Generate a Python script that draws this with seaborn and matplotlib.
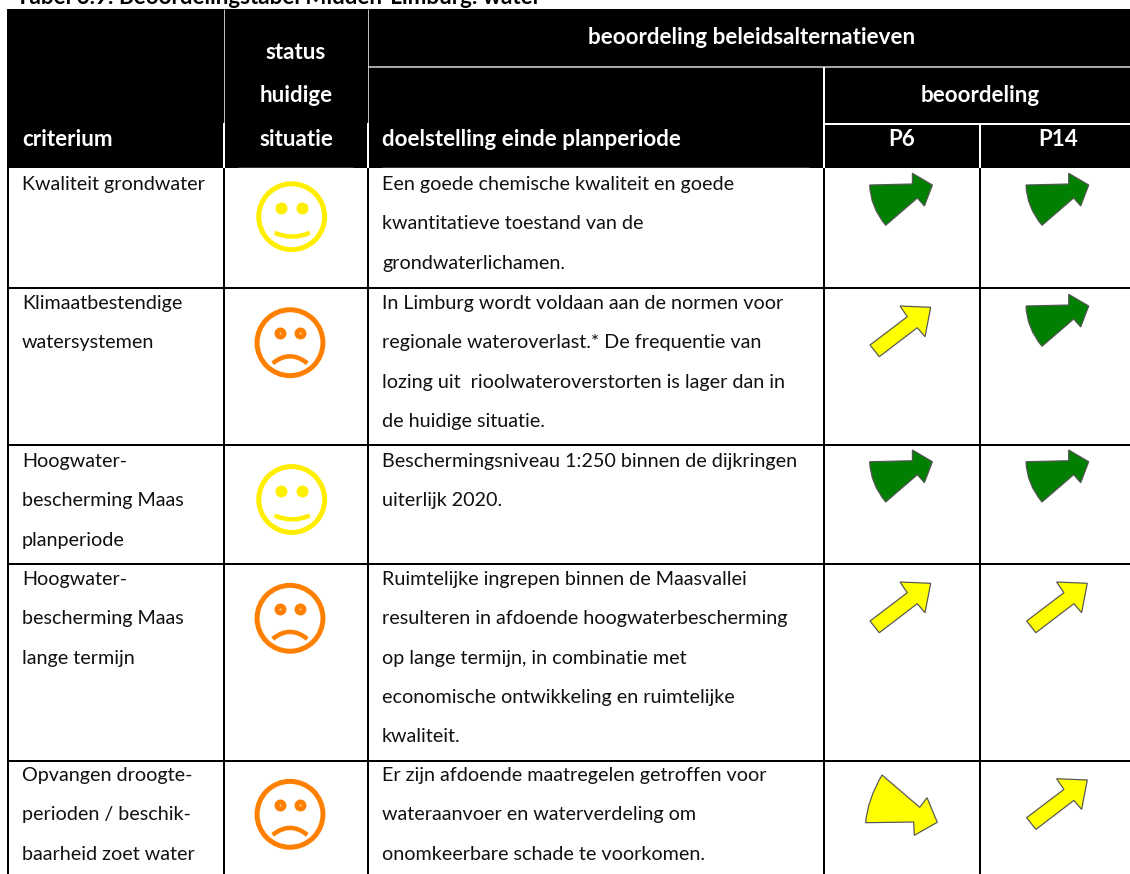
import pandas as pd
import matplotlib
matplotlib.use('Agg')
import matplotlib.pyplot as plt
from matplotlib.patches import PathPatch, Rectangle
from matplotlib.path import Path
import seaborn as sns

# --- DATA ---
titel = 'Tabel 6.9: Beoordelingstabel Midden-Limburg: water'

criteria = [
    ['Kwaliteit grondwater'],
    ['Klimaatbestendige', 'watersystemen'],
    ['Hoogwater-', 'bescherming Maas', 'planperiode'],
    ['Hoogwater-', 'bescherming Maas', 'lange termijn'],
    ['Opvangen droogte-', 'perioden / beschik-', 'baarheid zoet water'],
]
doelstellingen = [
    ['Een goede chemische kwaliteit en goede',
     'kwantitatieve toestand van de',
     'grondwaterlichamen.'],
    ['In Limburg wordt voldaan aan de normen voor',
     'regionale wateroverlast.* De frequentie van',
     'lozing uit  rioolwateroverstorten is lager dan in',
     'de huidige situatie.'],
    ['Beschermingsniveau 1:250 binnen de dijkringen',
     'uiterlijk 2020.'],
    ['Ruimtelijke ingrepen binnen de Maasvallei',
     'resulteren in afdoende hoogwaterbescherming',
     'op lange termijn, in combinatie met',
     'economische ontwikkeling en ruimtelijke',
     'kwaliteit.'],
    ['Er zijn afdoende maatregelen getroffen voor',
     'wateraanvoer en waterverdeling om',
     'onomkeerbare schade te voorkomen.'],
]
status = ['neutraal', 'slecht', 'neutraal', 'slecht', 'slecht']
p6 = ['groen', 'geel', 'groen', 'geel', 'geel_neer']
p14 = ['groen', 'groen', 'groen', 'geel', 'geel']

# --- LAYOUT (pixels) ---
W, H = 1130, 874
kolommen = [8, 224, 368, 824, 980]
rij_lijnen = [168, 288, 445, 564, 761]
eerste_regel = [190, 309, 467, 585, 781]
regel_afstand = 39.3
gezicht_y = [216.7, 342.7, 499.5, 618.3, 814.3]
gezicht_x = {'neutraal': 291.7, 'slecht': 290.0}
pijl_y_p6 = [185, 307.3, 461.7, 583.3, 822.3]
pijl_y_p14 = [185, 306, 461.7, 583.3, 780]
pijl_x = {('p6', 'groen'): 932.4, ('p6', 'geel'): 930.7, ('p6', 'geel_neer'): 937.3,
          ('p14', 'groen'): 1088.7, ('p14', 'geel'): 1087.3}
FS = 14.2
FS_KOP = 16.1
px = 0.72

# pijlvormen, relatief t.o.v. de punt
vorm_groen = [(-62.7, 0), (-20, -1), (-20, -11.7), (0, 0), (-8, 21), (-15, 13), (-46.7, 40.3)]
vorm_geel = [(-60.7, 37.7), (-23.4, 9.4), (-30.7, -1.3), (0, 0), (-5.7, 29.4), (-13.4, 20.4), (-51.4, 49.4)]
vorm_neer = [(-71.6, 0.4), (-23.6, -0.3), (-23, 13), (0, 0), (-10.3, -24.6), (-17.6, -15), (-55.3, -47.3)]
boog_groen = (-62, 22)
boog_neer = (-70, -22)

kleur_geel = '#FFFF00'
kleur_groen = '#007F00'
kleur_rand = '#555555'
kleur_gezicht = {'neutraal': '#FFEE00', 'slecht': '#FF8000'}


def pijl(ax, score, x, y):
    if score == 'geel':
        verts = [(x + a, y + b) for a, b in vorm_geel] + [(x + vorm_geel[0][0], y + vorm_geel[0][1])]
        codes = [Path.MOVETO] + [Path.LINETO] * 6 + [Path.CLOSEPOLY]
        kleur = kleur_geel
    else:
        vorm, boog = (vorm_groen, boog_groen) if score == 'groen' else (vorm_neer, boog_neer)
        kleur = kleur_groen if score == 'groen' else kleur_geel
        verts = [(x + a, y + b) for a, b in vorm]
        verts += [(x + boog[0], y + boog[1]), (x + vorm[0][0], y + vorm[0][1])]
        codes = [Path.MOVETO] + [Path.LINETO] * 6 + [Path.CURVE3, Path.CURVE3]
    ax.add_patch(PathPatch(Path(verts, codes), facecolor=kleur, edgecolor=kleur_rand,
                           lw=1.2 * px, zorder=4))


def mond(ax, soort, x, y):
    if soort == 'neutraal':
        punten = [(x - 17, y + 16), (x + 0.5, y + 24), (x + 18, y + 16)]
    else:
        punten = [(x - 17.3, y + 20.6), (x, y + 6.5), (x + 17.3, y + 20.6)]
    codes = [Path.MOVETO, Path.CURVE3, Path.CURVE3]
    ax.add_patch(PathPatch(Path(punten, codes), facecolor='none', lw=4.5 * px,
                           edgecolor=kleur_gezicht[soort], capstyle='butt', zorder=3))


def main():
    sns.set_theme(style='white')
    plt.rcParams['font.family'] = ['Lato', 'DejaVu Sans']

    fig = plt.figure(figsize=(W / 100, H / 100), dpi=100)
    ax = fig.add_axes([0, 0, 1, 1])

    # smileys
    df = pd.DataFrame({'rij': range(len(status)), 'status': status, 'y': gezicht_y})
    df['x'] = df['status'].map(gezicht_x)
    sns.scatterplot(data=df, x='x', y='y', hue='status', palette=kleur_gezicht, s=2250,
                    marker='o', linewidth=0, legend=False, ax=ax, zorder=3)
    ring = ax.collections[0]
    ring.set_edgecolor(ring.get_facecolor())
    ring.set_facecolor('none')
    ring.set_linewidth(5 * px)
    for soort, dx, dy in [('neutraal', 10.5, -9), ('slecht', 10.3, -9.4)]:
        deel = df[df['status'] == soort]
        for kant in (-dx, dx):
            ogen = pd.DataFrame({'x': deel['x'] + kant, 'y': deel['y'] + dy})
            sns.scatterplot(data=ogen, x='x', y='y', color=kleur_gezicht[soort], s=74,
                            linewidth=0, legend=False, ax=ax, zorder=3)
            if soort == 'slecht':
                sns.scatterplot(data=ogen, x='x', y='y', color='#FFD0A0', s=2,
                                linewidth=0, legend=False, ax=ax, zorder=3)
    for soort, y in zip(status, gezicht_y):
        mond(ax, soort, gezicht_x[soort], y)

    # kop
    ax.add_patch(Rectangle((7, 9), W - 7, 159, facecolor='black', edgecolor='none', zorder=1))
    ax.vlines([224, 368], 9, 123, color='#BBBBBB', lw=1 * px, zorder=2)
    ax.vlines([224, 368], 123, 168, color='white', lw=2 * px, zorder=2)
    ax.hlines(67, 368, W, color='#DDDDDD', lw=1.5 * px, zorder=2)
    ax.hlines(124, 824, W, color='white', lw=2 * px, zorder=2)
    ax.vlines(824, 67, 168, color='white', lw=2 * px, zorder=2)
    ax.vlines(980, 124, 168, color='white', lw=2 * px, zorder=2)
    ax.hlines(167, 238, 353, color='#333333', lw=1 * px, zorder=2)
    ax.hlines(167, 382, 809, color='#333333', lw=1 * px, zorder=2)

    # raster
    ax.vlines(kolommen, 168, H, color='black', lw=2 * px, zorder=2)
    ax.hlines(rij_lijnen[1:], kolommen[0], W, color='black', lw=2 * px, zorder=2)

    # teksten
    ax.text(16, 3.5, titel, fontsize=FS_KOP, fontweight='bold', color='black', va='baseline')
    kop = dict(fontsize=FS_KOP, fontweight='bold', color='white', va='baseline', zorder=5)
    ax.text(22, 146, 'criterium', **kop)
    ax.text(296, 59, 'status', ha='center', **kop)
    ax.text(296, 102, 'huidige', ha='center', **kop)
    ax.text(296, 146, 'situatie', ha='center', **kop)
    ax.text(382, 146, 'doelstelling einde planperiode', **kop)
    ax.text(752, 44, 'beoordeling beleidsalternatieven', ha='center', **kop)
    ax.text(980, 102, 'beoordeling', ha='center', **kop)
    ax.text(902, 146, 'P6', ha='center', **kop)
    ax.text(1058, 146, 'P14', ha='center', **kop)

    for i in range(len(criteria)):
        for j, regel in enumerate(criteria[i]):
            ax.text(22, eerste_regel[i] + j * regel_afstand, regel, fontsize=FS, color='#111111', va='baseline')
        for j, regel in enumerate(doelstellingen[i]):
            ax.text(382, eerste_regel[i] + j * regel_afstand, regel, fontsize=FS, color='#111111', va='baseline')

    # pijlen
    for score, y in zip(p6, pijl_y_p6):
        pijl(ax, score, pijl_x[('p6', score)], y)
    for score, y in zip(p14, pijl_y_p14):
        pijl(ax, score, pijl_x[('p14', score)], y)

    ax.set_xlim(0, W)
    ax.set_ylim(H, 0)
    ax.axis('off')
    fig.savefig('out.png', dpi=100, facecolor='white')


if __name__ == '__main__':
    main()
